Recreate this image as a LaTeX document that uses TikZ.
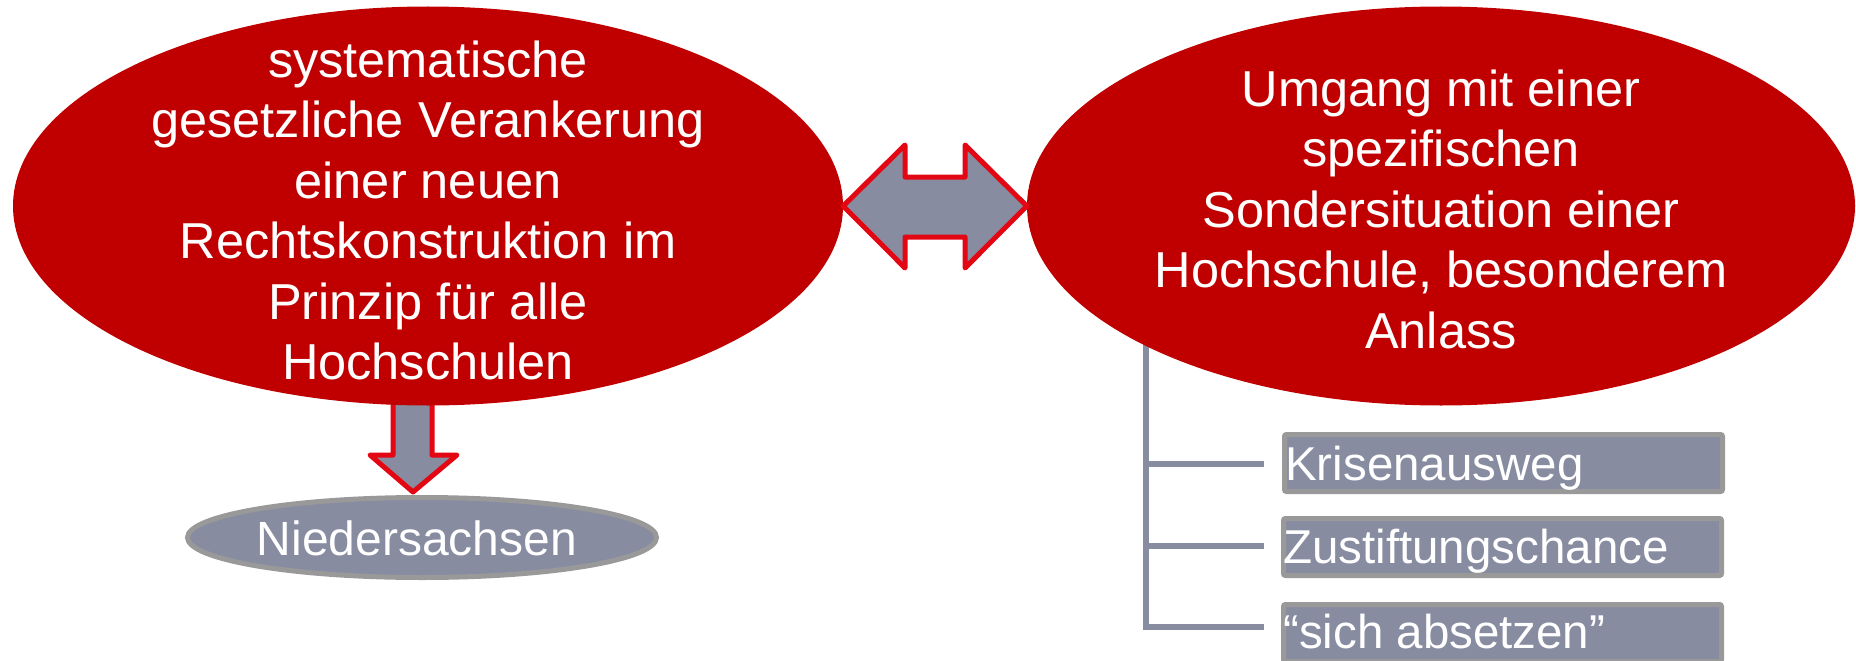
\documentclass[tikz,border=0pt]{standalone}
\usepackage{fontspec}
\setmainfont{Liberation Sans}
\usetikzlibrary{shapes.geometric,calc}
\definecolor{ovalred}{HTML}{C00000}
\definecolor{slate}{RGB}{135,140,161}
\definecolor{edgered}{HTML}{E30613}
\definecolor{rimgray}{HTML}{999999}

\begin{document}
\begin{tikzpicture}[x=1pt,y=-1pt,
  oval/.style={ellipse, fill=ovalred, inner sep=0pt, minimum width=830pt, minimum height=399pt},
  ovaltext/.style={text=white, align=center, inner sep=0pt, font=\fontsize{50.5}{60.5}\selectfont},
  fatarrow/.style={fill=slate, draw=edgered, line width=5pt, line join=round},
  twig/.style={draw=slate, line width=6pt},
  tag/.style={rectangle, fill=slate, draw=rimgray, line width=5pt, rounded corners=2pt,
              minimum width=438pt, minimum height=57pt, inner sep=0pt},
  tagtext/.style={text=white, anchor=base west, inner sep=0pt, font=\fontsize{47.5}{56}\selectfont},
]
\useasboundingbox (0,0) rectangle (1856,661);
\clip (0,0) rectangle (1856,661);

% tree trunk below the right oval
\coordinate (trunktop) at (1146,300);
\coordinate (b1) at (1264,464);
\coordinate (b2) at (1264,546);
\coordinate (b3) at (1264,627);
\draw[twig] (trunktop) |- (b3);
\draw[twig] (trunktop |- b1) -- (b1);
\draw[twig] (trunktop |- b2) -- (b2);

% downward fat arrow
\coordinate (downtip) at (413,492);
\draw[fatarrow] (393,395) -- (432,395) -- (432,455) -- (457,455) -- (downtip)
  -- (370,455) -- (393,455) -- cycle;

% the two main ovals
\node[oval] (lell) at (428,206) {};
\node[oval, minimum width=828pt] (rell) at (1441,206) {};
\node[ovaltext] (ltxt) at (428,210.5)
  {systematische\\gesetzliche Verankerung\\einer neuen\\Rechtskonstruktion im\\Prinzip für alle\\Hochschulen};
\node[ovaltext] (rtxt) at (1441,209)
  {Umgang mit einer\\spezifischen\\Sondersituation einer\\Hochschule, besonderem\\Anlass};

% double-headed fat arrow between the ovals
\draw[fatarrow] (lell.east) -- (905,145) -- (905,177) -- (965,177) -- (965,145)
  -- (rell.west) -- (965,268) -- (965,237) -- (905,237) -- (905,268) -- cycle;

% Niedersachsen oval
\node[ellipse, fill=slate, draw=rimgray, line width=5pt, inner sep=0pt,
      minimum width=469pt, minimum height=80pt] (nds) at (422,537.5) {};
\node[text=white, anchor=base, inner sep=0pt, font=\fontsize{48}{56}\selectfont]
  (ndstxt) at (417,555) {Niedersachsen};

% labelled boxes
\node[tag] (k) at (1503.5,463) {};
\node[tag] (z) at (1502.5,547) {};
\node[tag] (s) at (1502.5,633) {};
\node[tagtext] (ktxt) at (1285,480) {Krisenausweg};
\node[tagtext] (ztxt) at (1283,563) {Zustiftungschance};
\node[tagtext] (stxt) at (1283,648) {“sich absetzen”};
\end{tikzpicture}
\end{document}
